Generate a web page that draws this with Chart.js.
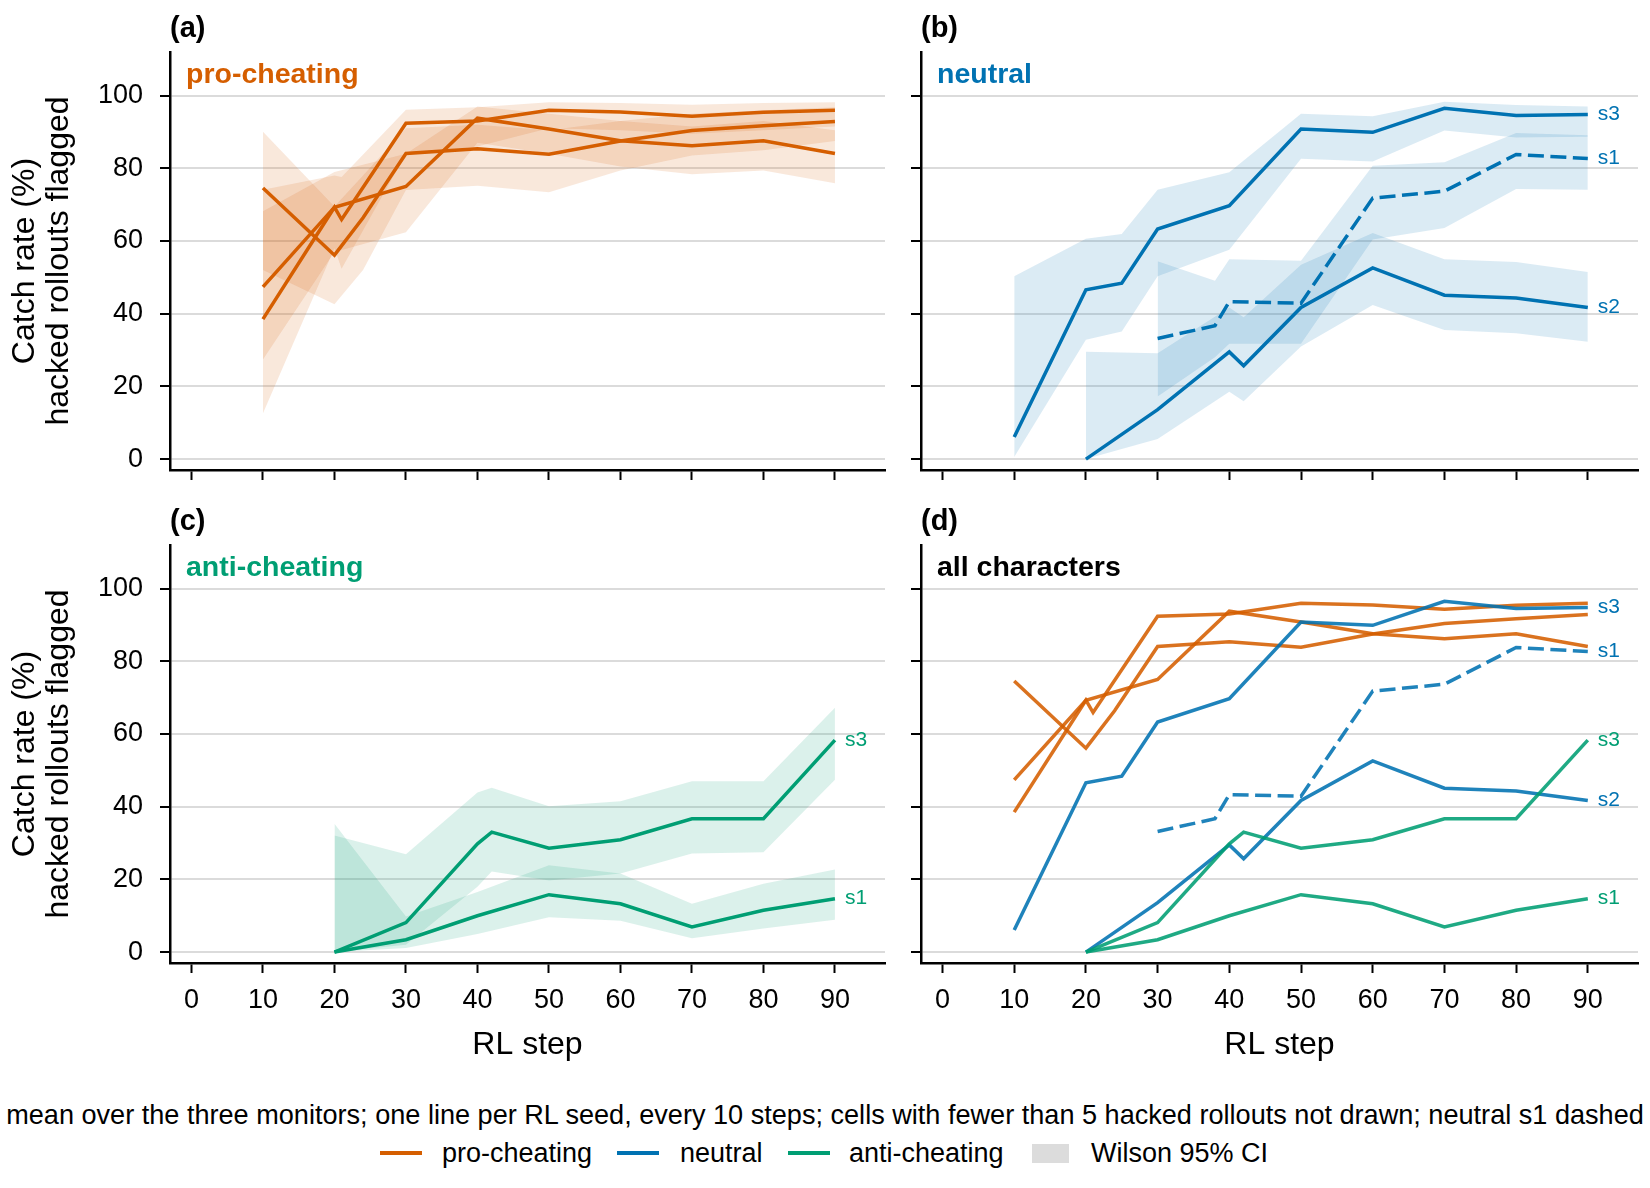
<!DOCTYPE html>
<html>
<head>
<meta charset="utf-8">
<script src="https://cdn.jsdelivr.net/npm/chart.js@4.4.0/dist/chart.umd.min.js"></script>
<style>
  body { margin: 0; background: #fff; }
  #fig { position: relative; width: 1650px; height: 1188px; overflow: hidden;
         font-family: 'Liberation Sans', Arial, sans-serif; color: #000; }
  canvas { position: absolute; }
  .lbl { position: absolute; white-space: nowrap; }
  .panel { font-size: 29px; line-height: 29px; font-weight: bold; }
  .inner { font-size: 28.5px; line-height: 28.5px; font-weight: bold; }
  .leg { font-size: 27px; line-height: 27px; }
  .sw { position: absolute; height: 3.5px; width: 42px; }
</style>
</head>
<body>
<div id="fig">
  <canvas id="pa" width="890" height="458" style="left:0;top:32px"></canvas>
  <canvas id="pb" width="752" height="458" style="left:891px;top:32px"></canvas>
  <canvas id="pc" width="890" height="538" style="left:0;top:525px"></canvas>
  <canvas id="pd" width="752" height="538" style="left:891px;top:525px"></canvas>

  <div class="lbl panel" style="left:170px;top:13px">(a)</div>
  <div class="lbl panel" style="left:921px;top:13px">(b)</div>
  <div class="lbl panel" style="left:170px;top:506px">(c)</div>
  <div class="lbl panel" style="left:921px;top:506px">(d)</div>

  <div class="lbl inner" style="left:186px;top:59px;color:#d55e00">pro-cheating</div>
  <div class="lbl inner" style="left:937px;top:59px;color:#0072b2">neutral</div>
  <div class="lbl inner" style="left:186px;top:552px;color:#009e73">anti-cheating</div>
  <div class="lbl inner" style="left:937px;top:552px;color:#000">all characters</div>

  <div class="lbl" id="note" style="left:0;width:1650px;text-align:center;top:1101px;font-size:27.1px;line-height:28px">mean over the three monitors; one line per RL seed, every 10 steps; cells with fewer than 5 hacked rollouts not drawn; neutral s1 dashed</div>

  <div class="sw" style="left:380px;top:1151px;background:#d55e00"></div>
  <div class="lbl leg" style="left:442px;top:1140px">pro-cheating</div>
  <div class="sw" style="left:617px;top:1151px;background:#0072b2"></div>
  <div class="lbl leg" style="left:680px;top:1140px">neutral</div>
  <div class="sw" style="left:788px;top:1151px;background:#009e73"></div>
  <div class="lbl leg" style="left:849px;top:1140px">anti-cheating</div>
  <div style="position:absolute;left:1032px;top:1144px;width:37px;height:19px;background:#dcdcdc"></div>
  <div class="lbl leg" style="left:1091px;top:1140px">Wilson 95% CI</div>
</div>
<script>
const proColor = [213, 94, 0];
const neuColor = [0, 114, 178];
const antiColor = [0, 158, 115];

const xTicks = [0, 10, 20, 30, 40, 50, 60, 70, 80, 90];
const yTicks = [0, 20, 40, 60, 80, 100];

// pro-cheating seeds
const proAx = [10, 20, 24, 30, 40, 50, 60, 70, 80, 90];
const proAy = [74.6, 56.1, 66.4, 84.1, 85.4, 83.9, 87.5, 90.4, 91.7, 92.9];
const proAlo = [52.0, 42.6, 52.0, 74.0, 75.2, 73.4, 79.4, 83.5, 85.0, 87.5];
const proAhi = [90.1, 69.5, 78.0, 91.0, 92.0, 90.5, 93.0, 95.0, 96.0, 96.8];

const proBx = [10, 20, 30, 40, 50, 60, 70, 80, 90];
const proBy = [47.4, 69.3, 75.0, 93.8, 90.8, 87.6, 86.2, 87.6, 84.1];
const proBlo = [27.4, 57.0, 62.4, 87.0, 84.0, 80.5, 78.4, 79.4, 75.9];
const proBhi = [68.2, 79.0, 84.0, 97.0, 95.0, 93.0, 91.5, 93.0, 90.5];

const proCx = [10, 20, 21, 30, 40, 50, 60, 70, 80, 90];
const proCy = [38.5, 69.3, 65.9, 92.4, 93.0, 96.0, 95.5, 94.3, 95.4, 96.0];
const proClo = [12.6, 58.0, 52.4, 84.0, 86.0, 91.0, 90.5, 89.5, 90.5, 91.5];
const proChi = [74.1, 78.0, 77.6, 96.1, 96.8, 98.2, 98.0, 97.5, 98.0, 98.2];

// neutral seeds
const neuS3x = [10, 20, 25, 30, 40, 50, 60, 70, 80, 90];
const neuS3y = [6.1, 46.6, 48.4, 63.3, 69.7, 90.8, 89.9, 96.5, 94.5, 94.8];
const neuS3lo = [0.6, 32.8, 35.1, 50.3, 57.6, 82.6, 81.9, 90.4, 88.5, 88.7];
const neuS3hi = [50.3, 60.6, 61.9, 74.1, 78.9, 95.0, 94.3, 98.3, 97.4, 97.0];

const neuS1x = [30, 38, 40, 50, 60, 70, 80, 90];
const neuS1y = [33.2, 36.7, 43.3, 42.9, 71.8, 73.7, 83.8, 82.7];
const neuS1lo = [17.2, 28.0, 31.7, 31.7, 60.4, 63.6, 74.3, 74.1];
const neuS1hi = [54.4, 49.1, 55.0, 54.6, 80.7, 81.7, 89.7, 89.1];

const neuS2x = [20, 30, 40, 42, 50, 60, 70, 80, 90];
const neuS2y = [0.0, 13.6, 29.5, 25.7, 41.7, 52.6, 45.1, 44.3, 41.7];
const neuS2lo = [0.0, 5.5, 18.5, 15.9, 31.0, 42.4, 35.5, 34.6, 32.3];
const neuS2hi = [29.5, 29.1, 41.7, 39.0, 53.5, 62.2, 55.0, 54.2, 51.5];

// anti-cheating seeds
const antiS3x = [20, 30, 40, 42, 50, 60, 70, 80, 90];
const antiS3y = [0.0, 8.1, 29.8, 33.0, 28.6, 30.9, 36.7, 36.7, 58.3];
const antiS3lo = [0.0, 2.0, 18.0, 22.2, 19.7, 21.6, 27.1, 27.5, 47.4];
const antiS3hi = [32.1, 26.9, 43.9, 45.2, 40.1, 41.5, 47.0, 47.0, 67.2];

const antiS1x = [20, 30, 40, 50, 60, 70, 80, 90];
const antiS1y = [0.0, 3.4, 10.0, 15.8, 13.3, 6.9, 11.5, 14.7];
const antiS1lo = [0.0, 1.1, 5.0, 9.6, 8.6, 3.8, 6.5, 8.9];
const antiS1hi = [35.3, 9.8, 16.5, 23.9, 21.6, 13.3, 18.8, 22.7];

const FONT = "'Liberation Sans', Arial, sans-serif";
Chart.defaults.font.family = FONT;
Chart.defaults.color = '#000';

const rgba = (c, a) => `rgba(${c[0]},${c[1]},${c[2]},${a})`;
const pts = (xs, ys) => xs.map((x, i) => ({x: x, y: ys[i]}));

// builds datasets: bands first (drawn underneath), then lines
function buildDatasets(series, withBands, lineAlpha) {
  const ds = [];
  if (withBands) {
    series.forEach((s, i) => {
      const lowIdx = ds.length;
      ds.push({ data: pts(s.x, s.lo), borderWidth: 0, borderColor: 'transparent',
                fill: false, order: 1000 - i });
      ds.push({ data: pts(s.x, s.hi), borderWidth: 0, borderColor: 'transparent',
                fill: lowIdx, backgroundColor: rgba(s.color, 0.14), order: 1000 - i });
    });
  }
  series.forEach((s, i) => {
    ds.push({ data: pts(s.x, s.y), borderColor: rgba(s.color, lineAlpha), borderWidth: 3.5,
              borderDash: s.dashed ? [16, 6.5] : [], fill: false, order: -i });
  });
  return ds;
}

function endLabels(items) {
  return {
    id: 'endLabels',
    afterDatasetsDraw(chart) {
      const {ctx, scales} = chart;
      ctx.save();
      ctx.font = '21px ' + FONT;
      ctx.textBaseline = 'middle';
      ctx.textAlign = 'left';
      items.forEach(it => {
        const n = it.x.length - 1;
        ctx.fillStyle = rgba(it.color, 1);
        ctx.fillText(it.text, scales.x.getPixelForValue(it.x[n]) + 10, scales.y.getPixelForValue(it.y[n]));
      });
      ctx.restore();
    }
  };
}

function makeChart(id, series, opts) {
  return new Chart(document.getElementById(id), {
    type: 'line',
    data: { datasets: buildDatasets(series, opts.bands, opts.alpha) },
    options: {
      responsive: false,
      animation: false,
      events: [],
      layout: { padding: { top: 20, right: 5, left: 0, bottom: 0 } },
      elements: { point: { radius: 0, hoverRadius: 0 }, line: { tension: 0 } },
      plugins: { legend: { display: false }, tooltip: { enabled: false } },
      scales: {
        x: {
          type: 'linear', min: -3, max: 97,
          afterBuildTicks: s => { s.ticks = xTicks.map(v => ({value: v})); },
          afterFit: s => { s.height = opts.xLabels ? 100 : 20; s.paddingLeft = 0; s.paddingRight = 0; },
          grid: { drawOnChartArea: false, drawTicks: true, tickLength: 10, tickColor: '#000', tickWidth: 2 },
          border: { display: true, color: '#000', width: 2.5 },
          ticks: { display: opts.xLabels, font: { size: 27 }, color: '#000', padding: 11, maxRotation: 0 },
          title: { display: opts.xLabels, text: 'RL step', color: '#000',
                   font: { size: 32, lineHeight: 1.0625 }, padding: { top: 0, bottom: 1 } }
        },
        y: {
          type: 'linear', min: -3, max: 112,
          afterBuildTicks: s => { s.ticks = yTicks.map(v => ({value: v})); },
          afterFit: s => { s.width = opts.yLabels ? 170 : 30; s.paddingTop = 0; s.paddingBottom = 0; },
          grid: { color: 'rgba(0,0,0,0.14)', lineWidth: 2, tickLength: 10, tickColor: '#000', tickWidth: 2 },
          border: { display: true, color: '#000', width: 2.5 },
          ticks: { display: opts.yLabels, font: { size: 27 }, color: '#000', padding: 17 },
          title: { display: opts.yLabels, text: ['Catch rate (%)', 'hacked rollouts flagged'], color: '#000',
                   font: { size: 32, lineHeight: 1.0625 }, padding: { top: 8, bottom: 0 } }
        }
      }
    },
    plugins: [endLabels(opts.labels || [])]
  });
}

const pro = [
  { x: proAx, y: proAy, lo: proAlo, hi: proAhi, color: proColor },
  { x: proBx, y: proBy, lo: proBlo, hi: proBhi, color: proColor },
  { x: proCx, y: proCy, lo: proClo, hi: proChi, color: proColor }
];
const neu = [
  { x: neuS1x, y: neuS1y, lo: neuS1lo, hi: neuS1hi, color: neuColor, dashed: true },
  { x: neuS2x, y: neuS2y, lo: neuS2lo, hi: neuS2hi, color: neuColor },
  { x: neuS3x, y: neuS3y, lo: neuS3lo, hi: neuS3hi, color: neuColor }
];
const anti = [
  { x: antiS1x, y: antiS1y, lo: antiS1lo, hi: antiS1hi, color: antiColor },
  { x: antiS3x, y: antiS3y, lo: antiS3lo, hi: antiS3hi, color: antiColor }
];

const neuLabels = [
  { x: neuS3x, y: neuS3y, text: 's3', color: neuColor },
  { x: neuS1x, y: neuS1y, text: 's1', color: neuColor },
  { x: neuS2x, y: neuS2y, text: 's2', color: neuColor }
];
const antiLabels = [
  { x: antiS3x, y: antiS3y, text: 's3', color: antiColor },
  { x: antiS1x, y: antiS1y, text: 's1', color: antiColor }
];

makeChart('pa', pro, { bands: true, alpha: 1, xLabels: false, yLabels: true });
makeChart('pb', neu, { bands: true, alpha: 1, xLabels: false, yLabels: false, labels: neuLabels });
makeChart('pc', anti, { bands: true, alpha: 1, xLabels: true, yLabels: true, labels: antiLabels });
makeChart('pd', pro.concat(neu, anti), { bands: false, alpha: 0.88, xLabels: true, yLabels: false,
  labels: neuLabels.concat(antiLabels) });
</script>
</body>
</html>
